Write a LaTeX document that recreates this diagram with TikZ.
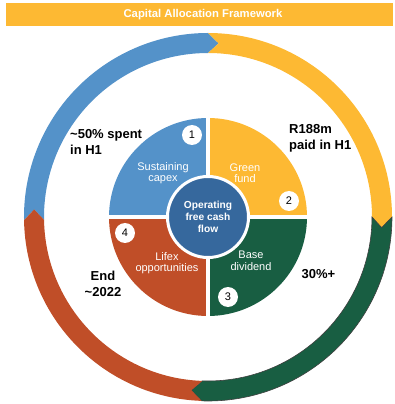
\documentclass[tikz,border=0pt]{standalone}
\usepackage{fontspec}
\setmainfont{Liberation Sans}
\usetikzlibrary{positioning}

\definecolor{capblue}{RGB}{84,146,201}
\definecolor{capyellow}{RGB}{253,185,51}
\definecolor{capgreen}{RGB}{24,94,66}
\definecolor{capred}{RGB}{192,78,40}
\definecolor{capcore}{RGB}{54,104,157}

% one arrow-shaped piece of the outer ring, running clockwise from #3 to #4
\newcommand{\ringpart}[4][]{%
  \path[fill=#2,#1] (#3:184) arc[start angle=#3, end angle=#4, radius=184]
    -- ({#4-3.5}:174) -- (#4:164) arc[start angle=#4, end angle=#3, radius=164]
    -- ({#3-3.5}:174) -- cycle;}

\begin{document}
\begin{tikzpicture}[x=1pt, y=1pt,
    seclabel/.style={text=white, align=center, inner sep=0pt, font=\fontsize{11}{11.5}\selectfont},
    sidelabel/.style={align=left, inner sep=0pt, font=\fontsize{13}{16}\selectfont\bfseries},
    numdot/.style={circle, fill=white, minimum size=20pt, inner sep=0pt, font=\fontsize{11}{12}\selectfont}]
  \useasboundingbox (-208,-187) rectangle (186,217);

  \fill[capyellow] (-202,191) rectangle (185,214);
  \node[text=white, font=\fontsize{11.3}{13}\selectfont\bfseries] (title) at (-5,202.5) {Capital Allocation Framework};

  \ringpart{capblue}{181}{90}
  \ringpart{capyellow}{90}{0}
  \ringpart[draw=black!75, line width=0.6pt]{capgreen}{0}{-92}
  \ringpart{capred}{-92}{-179}

  \fill[capblue] (0,0) -- (180:99) arc[start angle=180, end angle=90, radius=99] -- cycle;
  \fill[capyellow] (0,0) -- (90:99) arc[start angle=90, end angle=0, radius=99] -- cycle;
  \fill[capgreen] (0,0) -- (0:99) arc[start angle=0, end angle=-90, radius=99] -- cycle;
  \fill[capred] (0,0) -- (-90:99) arc[start angle=-90, end angle=-180, radius=99] -- cycle;
  \draw[white, line width=4pt] (-101,0) -- (101,0) (0,-101) -- (0,101);

  \node[circle, fill=capcore, draw=white, line width=3pt, minimum size=81pt, inner sep=0pt,
        text=white, align=center, font=\fontsize{10.2}{12}\selectfont\bfseries] (core) at (0,0)
        {Operating\\free cash\\flow};

  \node[seclabel] (capex) at (-45,44) {Sustaining\\capex};
  \node[seclabel] (fund) at (37,44) {Green\\fund};
  \node[seclabel] (div) at (43,-44) {Base\\dividend};
  \node[seclabel] (lifex) at (-41,-46) {Lifex\\opportunities};

  \node[numdot] (n1) at (-16,82) {1};
  \node[numdot] (n2) at (81,16) {2};
  \node[numdot] (n3) at (20,-80) {3};
  \node[numdot] (n4) at (-83,-16) {4};

  \node[sidelabel, anchor=west] (spent) at (-138,75) {\textasciitilde50\% spent\\in H1};
  \node[sidelabel, anchor=west] (paid) at (81,79) {R188m\\paid in H1};
  \node[sidelabel, align=center] (end) at (-105,-66.5) {End\\\textasciitilde2022};
  \node[sidelabel] (pct) at (110.5,-57) {30\%+};
\end{tikzpicture}
\end{document}
